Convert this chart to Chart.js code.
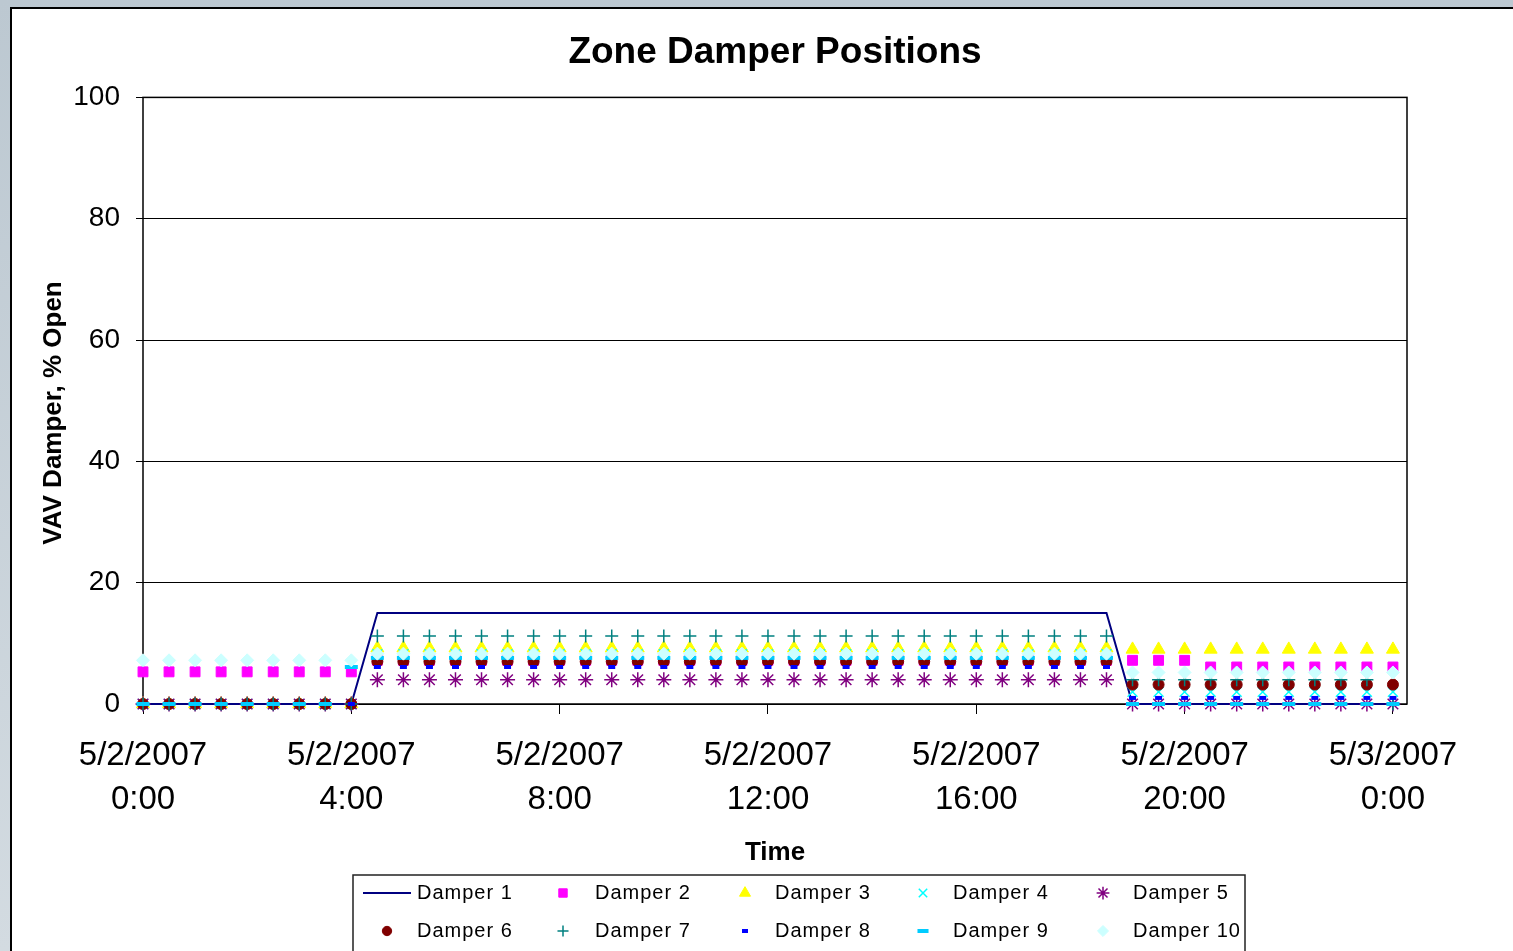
<!DOCTYPE html>
<html>
<head>
<meta charset="utf-8">
<title>Zone Damper Positions</title>
<script src="https://cdn.jsdelivr.net/npm/chart.js@4.4.1/dist/chart.umd.min.js"></script>
<style>
    html, body { margin: 0; padding: 0; overflow: hidden; }
    body {
        width: 1513px; height: 951px;
        background: linear-gradient(180deg, #bcc8d1 0%, #d3dbe1 100%);
        position: relative;
    }
    #panel {
        position: absolute; left: 10px; top: 7px;
        width: 1530px; height: 970px;
        background: #fff; border: 2px solid #000;
    }
    #chart { position: absolute; left: 0; top: 0; }
</style>
</head>
<body>
<div id="panel"></div>
<canvas id="chart" width="1513" height="951"></canvas>
<script>
// Time of day in hours (5/2/2007 0:00 -> 5/3/2007 0:00, every 30 min)
const times = [0, 0.5, 1, 1.5, 2, 2.5, 3, 3.5, 4,
    4.5, 5, 5.5, 6, 6.5, 7, 7.5, 8, 8.5, 9, 9.5, 10, 10.5, 11, 11.5, 12, 12.5,
    13, 13.5, 14, 14.5, 15, 15.5, 16, 16.5, 17, 17.5, 18, 18.5,
    19, 19.5, 20, 20.5, 21, 21.5, 22, 22.5, 23, 23.5, 24];

// Damper positions, % open (night / occupied / evening)
const damper1 = [0, 0, 0, 0, 0, 0, 0, 0, 0,
    15, 15, 15, 15, 15, 15, 15, 15, 15, 15, 15, 15, 15, 15, 15, 15, 15, 15, 15, 15, 15, 15, 15, 15, 15, 15, 15, 15, 15,
    0, 0, 0, 0, 0, 0, 0, 0, 0, 0, 0];
const damper2 = [5.3, 5.3, 5.3, 5.3, 5.3, 5.3, 5.3, 5.3, 5.3,
    7.2, 7.2, 7.2, 7.2, 7.2, 7.2, 7.2, 7.2, 7.2, 7.2, 7.2, 7.2, 7.2, 7.2, 7.2, 7.2, 7.2, 7.2, 7.2, 7.2, 7.2, 7.2, 7.2, 7.2, 7.2, 7.2, 7.2, 7.2, 7.2,
    7.2, 7.2, 7.2, 6.1, 6.1, 6.1, 6.1, 6.1, 6.1, 6.1, 6.1];
const damper3 = [0, 0, 0, 0, 0, 0, 0, 0, 0,
    9.2, 9.2, 9.2, 9.2, 9.2, 9.2, 9.2, 9.2, 9.2, 9.2, 9.2, 9.2, 9.2, 9.2, 9.2, 9.2, 9.2, 9.2, 9.2, 9.2, 9.2, 9.2, 9.2, 9.2, 9.2, 9.2, 9.2, 9.2, 9.2,
    9, 9, 9, 9, 9, 9, 9, 9, 9, 9, 9];
const damper4 = [0, 0, 0, 0, 0, 0, 0, 0, 0,
    8.2, 8.2, 8.2, 8.2, 8.2, 8.2, 8.2, 8.2, 8.2, 8.2, 8.2, 8.2, 8.2, 8.2, 8.2, 8.2, 8.2, 8.2, 8.2, 8.2, 8.2, 8.2, 8.2, 8.2, 8.2, 8.2, 8.2, 8.2, 8.2,
    2, 2, 2, 2, 2, 2, 2, 2, 2, 2, 2];
const damper5 = [0, 0, 0, 0, 0, 0, 0, 0, 0,
    4, 4, 4, 4, 4, 4, 4, 4, 4, 4, 4, 4, 4, 4, 4, 4, 4, 4, 4, 4, 4, 4, 4, 4, 4, 4, 4, 4, 4,
    0, 0, 0, 0, 0, 0, 0, 0, 0, 0, 0];
const damper6 = [0, 0, 0, 0, 0, 0, 0, 0, 0,
    7, 7, 7, 7, 7, 7, 7, 7, 7, 7, 7, 7, 7, 7, 7, 7, 7, 7, 7, 7, 7, 7, 7, 7, 7, 7, 7, 7, 7,
    3.2, 3.2, 3.2, 3.2, 3.2, 3.2, 3.2, 3.2, 3.2, 3.2, 3.2];
const damper7 = [0, 0, 0, 0, 0, 0, 0, 0, 0,
    11.2, 11.2, 11.2, 11.2, 11.2, 11.2, 11.2, 11.2, 11.2, 11.2, 11.2, 11.2, 11.2, 11.2, 11.2, 11.2, 11.2, 11.2, 11.2, 11.2, 11.2, 11.2, 11.2, 11.2, 11.2, 11.2, 11.2, 11.2, 11.2,
    4, 4, 4, 4, 4, 4, 4, 4, 4, 4, 0];
const damper8 = [0, 0, 0, 0, 0, 0, 0, 0, 0,
    6.1, 6.1, 6.1, 6.1, 6.1, 6.1, 6.1, 6.1, 6.1, 6.1, 6.1, 6.1, 6.1, 6.1, 6.1, 6.1, 6.1, 6.1, 6.1, 6.1, 6.1, 6.1, 6.1, 6.1, 6.1, 6.1, 6.1, 6.1, 6.1,
    1, 1, 1, 1, 1, 1, 1, 1, 1, 1, 1];
const damper9 = [0, 0, 0, 0, 0, 0, 0, 0, 6.1,
    7.6, 7.6, 7.6, 7.6, 7.6, 7.6, 7.6, 7.6, 7.6, 7.6, 7.6, 7.6, 7.6, 7.6, 7.6, 7.6, 7.6, 7.6, 7.6, 7.6, 7.6, 7.6, 7.6, 7.6, 7.6, 7.6, 7.6, 7.6, 7.6,
    0, 0, 0, 0, 0, 0, 0, 0, 0, 0, 0];
const damper10 = [7.2, 7.2, 7.2, 7.2, 7.2, 7.2, 7.2, 7.2, 7.2,
    8.3, 8.3, 8.3, 8.3, 8.3, 8.3, 8.3, 8.3, 8.3, 8.3, 8.3, 8.3, 8.3, 8.3, 8.3, 8.3, 8.3, 8.3, 8.3, 8.3, 8.3, 8.3, 8.3, 8.3, 8.3, 8.3, 8.3, 8.3, 8.3,
    5.2, 5.2, 5.2, 5.2, 5.2, 5.2, 5.2, 5.2, 5.2, 5.2, 5.2];

// Axis ticks
const xTickValues = [0, 4, 8, 12, 16, 20, 24];
const xTickDates = ['5/2/2007', '5/2/2007', '5/2/2007', '5/2/2007', '5/2/2007', '5/2/2007', '5/3/2007'];
const xTickTimes = ['0:00', '4:00', '8:00', '12:00', '16:00', '20:00', '0:00'];

const FONT = "'Liberation Sans', Arial, sans-serif";
Chart.defaults.font.family = FONT;
Chart.defaults.color = '#000';

function toPoints(values) {
    return times.map((t, i) => ({ x: t, y: values[i] }));
}

function markerSeries(label, values, color, style, radius, borderWidth, order) {
    return {
        label: label,
        data: toPoints(values),
        showLine: false,
        pointStyle: style,
        pointRadius: radius,
        pointHoverRadius: radius,
        pointBackgroundColor: color,
        pointBorderColor: color,
        pointBorderWidth: borderWidth,
        borderColor: color,
        backgroundColor: color,
        clip: false,
        order: order
    };
}

const datasets = [
    {
        label: 'Damper 1',
        data: toPoints(damper1),
        showLine: true,
        borderColor: '#000080',
        backgroundColor: '#000080',
        borderWidth: 2,
        pointRadius: 0,
        tension: 0,
        clip: false,
        order: 10
    },
    markerSeries('Damper 2', damper2, '#FF00FF', 'rect', 7, 1, 9),
    markerSeries('Damper 3', damper3, '#FFFF00', 'triangle', 7.5, 1, 8),
    markerSeries('Damper 4', damper4, '#00FFFF', 'crossRot', 7, 1.5, 7),
    markerSeries('Damper 5', damper5, '#800080', 'star', 7.5, 1.5, 6),
    markerSeries('Damper 6', damper6, '#800000', 'circle', 5.5, 1, 5),
    markerSeries('Damper 7', damper7, '#008080', 'cross', 6.5, 1.5, 4),
    markerSeries('Damper 8', damper8, '#0000FF', 'line', 3.5, 4, 3),
    markerSeries('Damper 9', damper9, '#00CCFF', 'line', 6.5, 4, 2),
    markerSeries('Damper 10', damper10, '#CCFFFF', 'rectRot', 6.5, 1, 1)
];

// Frame around the plot area
const plotFrame = {
    id: 'plotFrame',
    beforeDatasetsDraw(chart) {
        const { ctx, chartArea: a } = chart;
        ctx.save();
        ctx.strokeStyle = '#000';
        ctx.lineWidth = 1.5;
        ctx.strokeRect(a.left, a.top, a.right - a.left, a.bottom - a.top);
        ctx.restore();
    }
};

// Y axis title, placed a little below the middle like the original
const yTitle = {
    id: 'yTitle',
    afterDraw(chart) {
        const ctx = chart.ctx;
        ctx.save();
        ctx.translate(54, 413);
        ctx.rotate(-Math.PI / 2);
        ctx.font = 'bold 26px ' + FONT;
        ctx.fillStyle = '#000';
        ctx.textAlign = 'center';
        ctx.textBaseline = 'middle';
        ctx.fillText('VAV Damper, % Open', 0, 0);
        ctx.restore();
    }
};

// Boxed legend, 5 columns x 2 rows, like the spreadsheet one
const legendMarkX = [387, 563, 745, 923, 1103];
const legendTextX = [417, 595, 775, 953, 1133];
const legendRowY = [893, 931];

const boxedLegend = {
    id: 'boxedLegend',
    afterDraw(chart) {
        const ctx = chart.ctx;
        ctx.save();
        ctx.strokeStyle = '#222';
        ctx.lineWidth = 1.5;
        ctx.strokeRect(353, 875, 892, 95);
        ctx.font = '20px ' + FONT;
        if ('letterSpacing' in ctx) ctx.letterSpacing = '1px';
        ctx.textBaseline = 'middle';
        ctx.textAlign = 'left';

        chart.data.datasets.forEach((ds, i) => {
            const col = i % 5;
            const y = legendRowY[Math.floor(i / 5)];
            const mx = legendMarkX[col];
            if (ds.showLine) {
                ctx.strokeStyle = ds.borderColor;
                ctx.lineWidth = ds.borderWidth;
                ctx.beginPath();
                ctx.moveTo(mx - 24, y);
                ctx.lineTo(mx + 24, y);
                ctx.stroke();
            } else {
                ctx.fillStyle = ds.pointBackgroundColor;
                ctx.strokeStyle = ds.pointBorderColor;
                ctx.lineWidth = ds.pointBorderWidth;
                Chart.helpers.drawPoint(ctx, {
                    pointStyle: ds.pointStyle,
                    radius: ds.pointRadius * 0.85,
                    borderWidth: ds.pointBorderWidth,
                    rotation: 0
                }, mx, y);
            }
            ctx.fillStyle = '#000';
            ctx.fillText(ds.label, legendTextX[col], y);
        });
        ctx.restore();
    }
};

const ctx = document.getElementById('chart').getContext('2d');
const damperChart = new Chart(ctx, {
    type: 'line',
    data: { datasets: datasets },
    options: {
        responsive: false,
        animation: false,
        devicePixelRatio: 1,
        layout: { padding: { left: 0, top: 0, right: 106, bottom: 81 } },
        plugins: {
            legend: { display: false },
            tooltip: { enabled: false },
            title: {
                display: true,
                text: 'Zone Damper Positions',
                fullSize: false,
                color: '#000',
                font: { size: 37, weight: 'bold', lineHeight: 1.2 },
                padding: { top: 31, bottom: 22 }
            }
        },
        scales: {
            x: {
                type: 'linear',
                min: 0,
                max: 24.27,
                afterBuildTicks: scale => {
                    scale.ticks = xTickValues.map(v => ({ value: v }));
                },
                afterFit: scale => { scale.height = 166; },
                grid: {
                    drawOnChartArea: false,
                    drawTicks: true,
                    tickLength: 10,
                    tickColor: '#000',
                    tickWidth: 1
                },
                border: { display: false },
                ticks: {
                    autoSkip: false,
                    maxRotation: 0,
                    padding: 20,
                    color: '#000',
                    font: { size: 33, lineHeight: 1.333 },
                    callback: (value, index) => [xTickDates[index], xTickTimes[index]]
                },
                title: {
                    display: true,
                    text: 'Time',
                    color: '#000',
                    font: { size: 26, weight: 'bold', lineHeight: 1.2 },
                    padding: { top: 0, bottom: 2 }
                }
            },
            y: {
                min: 0,
                max: 100,
                afterFit: scale => { scale.width = 143; },
                grid: {
                    color: '#000',
                    lineWidth: 1,
                    drawTicks: true,
                    tickLength: 7,
                    tickColor: '#000'
                },
                border: { display: false },
                ticks: {
                    stepSize: 20,
                    padding: 16,
                    color: '#000',
                    font: { size: 28 }
                }
            }
        }
    },
    plugins: [plotFrame, yTitle, boxedLegend]
});
</script>
</body>
</html>
